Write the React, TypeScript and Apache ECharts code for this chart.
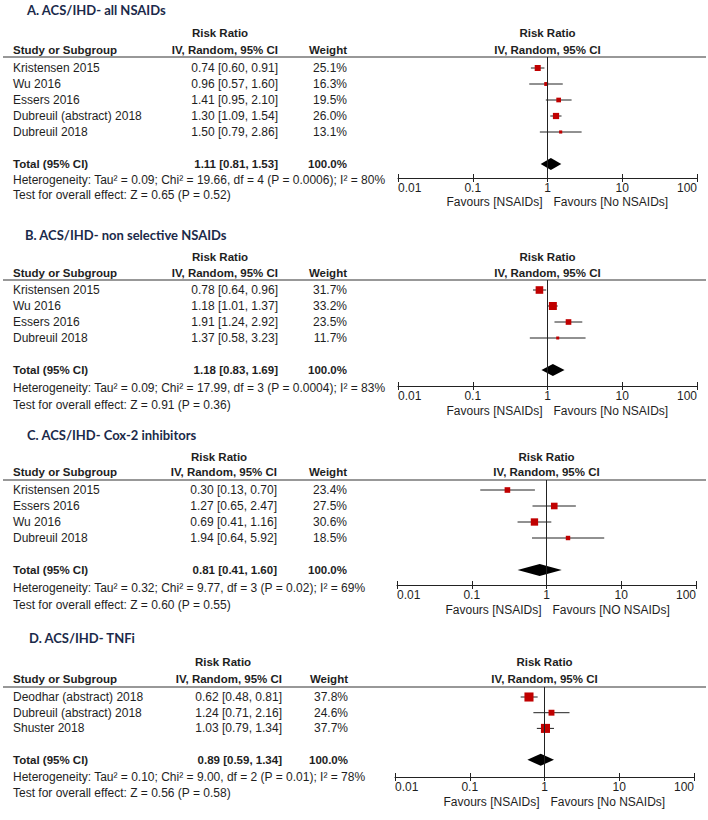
import React, { useEffect, useRef } from "react";
import * as echarts from "echarts";

// ---------- DATA ----------
const panelTitles = [
  "A. ACS/IHD- all NSAIDs",
  "B. ACS/IHD- non selective NSAIDs",
  "C. ACS/IHD- Cox-2 inhibitors",
  "D. ACS/IHD- TNFi",
];

const aStudies = ["Kristensen 2015", "Wu 2016", "Essers 2016", "Dubreuil (abstract) 2018", "Dubreuil 2018"];
const aRR = [0.74, 0.96, 1.41, 1.3, 1.5];
const aLow = [0.6, 0.57, 0.95, 1.09, 0.79];
const aHigh = [0.91, 1.6, 2.1, 1.54, 2.86];
const aWeight = [25.1, 16.3, 19.5, 26.0, 13.1];
const aTotal = [1.11, 0.81, 1.53];
const aHet = "Heterogeneity: Tau² = 0.09; Chi² = 19.66, df = 4 (P = 0.0006); I² = 80%";
const aTest = "Test for overall effect: Z = 0.65 (P = 0.52)";

const bStudies = ["Kristensen 2015", "Wu 2016", "Essers 2016", "Dubreuil 2018"];
const bRR = [0.78, 1.18, 1.91, 1.37];
const bLow = [0.64, 1.01, 1.24, 0.58];
const bHigh = [0.96, 1.37, 2.92, 3.23];
const bWeight = [31.7, 33.2, 23.5, 11.7];
const bTotal = [1.18, 0.83, 1.69];
const bHet = "Heterogeneity: Tau² = 0.09; Chi² = 17.99, df = 3 (P = 0.0004); I² = 83%";
const bTest = "Test for overall effect: Z = 0.91 (P = 0.36)";

const cStudies = ["Kristensen 2015", "Essers 2016", "Wu 2016", "Dubreuil 2018"];
const cRR = [0.3, 1.27, 0.69, 1.94];
const cLow = [0.13, 0.65, 0.41, 0.64];
const cHigh = [0.7, 2.47, 1.16, 5.92];
const cWeight = [23.4, 27.5, 30.6, 18.5];
const cTotal = [0.81, 0.41, 1.6];
const cHet = "Heterogeneity: Tau² = 0.32; Chi² = 9.77, df = 3 (P = 0.02); I² = 69%";
const cTest = "Test for overall effect: Z = 0.60 (P = 0.55)";

const dStudies = ["Deodhar (abstract) 2018", "Dubreuil (abstract) 2018", "Shuster 2018"];
const dRR = [0.62, 1.24, 1.03];
const dLow = [0.48, 0.71, 0.79];
const dHigh = [0.81, 2.16, 1.34];
const dWeight = [37.8, 24.6, 37.7];
const dTotal = [0.89, 0.59, 1.34];
const dHet = "Heterogeneity: Tau² = 0.10; Chi² = 9.00, df = 2 (P = 0.01); I² = 78%";
const dTest = "Test for overall effect: Z = 0.56 (P = 0.58)";

const favLeft = ["Favours [NSAIDs]", "Favours [NSAIDs]", "Favours [NSAIDs]", "Favours [NSAIDs]"];
const favRight = ["Favours [No NSAIDs]", "Favours [No NSAIDs]", "Favours [NO NSAIDs]", "Favours [No NSAIDs]"];

const axisMin = 0.01;
const axisMax = 100;
const nullEffect = 1;

const headerRR = "Risk Ratio";
const headerCI = "IV, Random, 95% CI";
const headerStudy = "Study or Subgroup";
const headerWeight = "Weight";
const totalLabel = "Total (95% CI)";
const totalWeight = "100.0%";

const panels = [
  { studies: aStudies, rr: aRR, low: aLow, high: aHigh, weight: aWeight, total: aTotal, het: aHet, test: aTest },
  { studies: bStudies, rr: bRR, low: bLow, high: bHigh, weight: bWeight, total: bTotal, het: bHet, test: bTest },
  { studies: cStudies, rr: cRR, low: cLow, high: cHigh, weight: cWeight, total: cTotal, het: cHet, test: cTest },
  { studies: dStudies, rr: dRR, low: dLow, high: dHigh, weight: dWeight, total: dTotal, het: dHet, test: dTest },
];

// ---------- LAYOUT ----------
const layouts = [
  { titleX: 27, title: 10, rr: 33, hdr: 50, rule: 57, row0: 68, rowH: 16, het: 180, test: 195, axis: 178, fav: 202, plotLeft: 398, rrCenter: 220, colCI: 278, colW: 347 },
  { titleX: 25, title: 235, rr: 257, hdr: 273, rule: 280, row0: 290, rowH: 16, het: 388, test: 405, axis: 386, fav: 411, plotLeft: 398, rrCenter: 220, colCI: 278, colW: 347 },
  { titleX: 27, title: 435, rr: 457, hdr: 472, rule: 480, row0: 490, rowH: 16, het: 588, test: 605, axis: 585, fav: 610, plotLeft: 397, rrCenter: 219, colCI: 277, colW: 347 },
  { titleX: 29, title: 638, rr: 662, hdr: 679, rule: 687, row0: 697, rowH: 15.7, het: 777, test: 793, axis: 777, fav: 802, plotLeft: 395, rrCenter: 223, colCI: 282, colW: 348 },
];
const plotWidth = 299;

const FONT = "Arial, 'Liberation Sans', sans-serif";
const TXT = "#1e1e1e";
const TITLE_COLOR = "#1b2a4a";
const RED = "#c00000";
const CLEAR = "rgba(0,0,0,0)";

const fmt = (v: number) => v.toFixed(2);

function buildOption() {
  const grids: any[] = [];
  const xAxes: any[] = [];
  const yAxes: any[] = [];
  const series: any[] = [];
  const graphics: any[] = [];

  panels.forEach((p, i) => {
    const L = layouts[i];
    const n = p.studies.length;
    const yMin = (L.rule - L.row0) / L.rowH;
    const yMax = (L.axis - L.row0) / L.rowH;
    const totalRow = n + 1;
    const centerX = L.plotLeft + plotWidth / 2;

    grids.push({
      left: L.plotLeft,
      width: plotWidth,
      top: L.rule,
      height: L.axis - L.rule,
      outerBoundsMode: "none",
      containLabel: false,
    });
    const baseX = {
      type: "log",
      logBase: 10,
      min: axisMin,
      max: axisMax,
      gridIndex: i,
      position: "bottom",
      offset: 0,
      minorTick: { show: false },
    };
    xAxes.push({
      ...baseX,
      z: 5,
      splitLine: { show: false },
      axisLine: { show: true, onZero: false, lineStyle: { color: "#222", width: 1 } },
      axisTick: { show: true, length: 4, inside: false, lineStyle: { color: "#222", width: 1 } },
      axisLabel: {
        show: true,
        margin: 4,
        color: TXT,
        fontFamily: FONT,
        fontSize: 12,
        alignMinLabel: "left",
        alignMaxLabel: "right",
        formatter: (v: number) => String(v),
      },
    });
    // second axis: inward ticks, and its split line at RR = 1 is the line of no effect
    xAxes.push({
      ...baseX,
      z: 5,
      axisLine: { show: false, onZero: false },
      axisTick: { show: true, length: 4, inside: true, lineStyle: { color: "#222", width: 1 } },
      axisLabel: { show: false },
      splitLine: {
        show: true,
        showMinLine: true,
        showMaxLine: true,
        lineStyle: { color: [CLEAR, CLEAR, "#222", CLEAR, CLEAR], width: 1, type: "solid" },
      },
    });
    yAxes.push({
      type: "value",
      gridIndex: i,
      inverse: true,
      min: yMin,
      max: yMax,
      show: false,
      splitLine: { show: false },
    });

    // total diamond (carries a mark line at RR = 1 as well)
    series.push({
      type: "custom",
      xAxisIndex: i * 2,
      yAxisIndex: i,
      clip: false,
      z: 3,
      encode: { x: [0, 1, 2], y: 3 },
      data: [[p.total[0], p.total[1], p.total[2], totalRow]],
      markLine: {
        silent: true,
        symbol: ["none", "none"],
        label: { show: false },
        lineStyle: { color: "#222", width: 1, type: "solid" },
        data: [{ xAxis: nullEffect }],
      },
      renderItem: (_params: any, api: any) => {
        const row = api.value(3);
        const c = api.coord([api.value(0), row]);
        const lo = api.coord([api.value(1), row]);
        const hi = api.coord([api.value(2), row]);
        const h = 6;
        return {
          type: "polygon",
          shape: {
            points: [
              [lo[0], c[1]],
              [c[0], c[1] - h],
              [hi[0], c[1]],
              [c[0], c[1] + h],
            ],
          },
          style: { fill: "#000" },
        };
      },
    });

    // studies
    series.push({
      type: "custom",
      xAxisIndex: i * 2,
      yAxisIndex: i,
      clip: false,
      z: 4,
      encode: { x: [0, 1, 2], y: 4 },
      data: p.studies.map((_, k) => [p.rr[k], p.low[k], p.high[k], p.weight[k], k]),
      renderItem: (_params: any, api: any) => {
        const row = api.value(4);
        const c = api.coord([api.value(0), row]);
        const lo = api.coord([api.value(1), row]);
        const hi = api.coord([api.value(2), row]);
        const s = Math.max(3, api.value(3) * 0.24);
        return {
          type: "group",
          children: [
            {
              type: "line",
              shape: { x1: lo[0], y1: c[1], x2: hi[0], y2: c[1] },
              style: { stroke: "#222", lineWidth: 1 },
            },
            {
              type: "rect",
              shape: { x: c[0] - s / 2, y: c[1] - s / 2, width: s, height: s },
              style: { fill: RED },
            },
          ],
        };
      },
    });

    // ---- texts ----
    const t = (text: string, x: number, y: number, opts: any = {}) =>
      graphics.push({
        type: "text",
        x,
        y,
        silent: true,
        style: {
          text,
          fill: opts.fill || TXT,
          font: `${opts.bold ? "bold " : ""}${opts.size || 12}px ${opts.family || FONT}`,
          textAlign: opts.align || "left",
          textVerticalAlign: "middle",
        },
      });

    t(panelTitles[i], L.titleX, L.title, { bold: true, size: 13, family: "Lato, 'Open Sans', sans-serif", fill: TITLE_COLOR });
    t(headerRR, L.rrCenter, L.rr, { bold: true, size: 11.5, align: "center" });
    t(headerStudy, 13, L.hdr, { bold: true, size: 11.5 });
    t(headerCI, L.colCI, L.hdr, { bold: true, size: 11.5, align: "right" });
    t(headerWeight, L.colW, L.hdr, { bold: true, size: 11.5, align: "right" });
    t(headerRR, centerX, L.rr, { bold: true, size: 11.5, align: "center" });
    t(headerCI, centerX, L.hdr, { bold: true, size: 11.5, align: "center" });

    graphics.push({
      type: "line",
      silent: true,
      shape: { x1: 3, y1: L.rule, x2: 706, y2: L.rule },
      style: { stroke: "#333", lineWidth: 1.2 },
    });

    p.studies.forEach((s, k) => {
      const y = L.row0 + k * L.rowH;
      t(s, 13, y);
      t(`${fmt(p.rr[k])} [${fmt(p.low[k])}, ${fmt(p.high[k])}]`, L.colCI, y, { align: "right" });
      t(`${p.weight[k].toFixed(1)}%`, L.colW, y, { align: "right" });
    });
    const ty = L.row0 + totalRow * L.rowH;
    t(totalLabel, 13, ty, { bold: true, size: 11.5 });
    t(`${fmt(p.total[0])} [${fmt(p.total[1])}, ${fmt(p.total[2])}]`, L.colCI, ty, { bold: true, size: 11.5, align: "right" });
    t(totalWeight, L.colW, ty, { bold: true, size: 11.5, align: "right" });
    t(p.het, 13, L.het);
    t(p.test, 13, L.test);

    t(favLeft[i], centerX - 5, L.fav, { align: "right" });
    t(favRight[i], centerX + 6, L.fav, { align: "left" });
  });

  return {
    animation: false,
    backgroundColor: "#ffffff",
    grid: grids,
    xAxis: xAxes,
    yAxis: yAxes,
    series,
    graphic: graphics,
  };
}

export default function App() {
  const ref = useRef<HTMLDivElement>(null);
  useEffect(() => {
    if (!ref.current) return;
    const chart = echarts.init(ref.current, undefined, { renderer: "svg" });
    chart.setOption(buildOption() as any);
    return () => chart.dispose();
  }, []);
  return (
    <div
      ref={ref}
      style={{ position: "absolute", left: 0, top: 0, width: 708, height: 820, background: "#fff" }}
    />
  );
}
